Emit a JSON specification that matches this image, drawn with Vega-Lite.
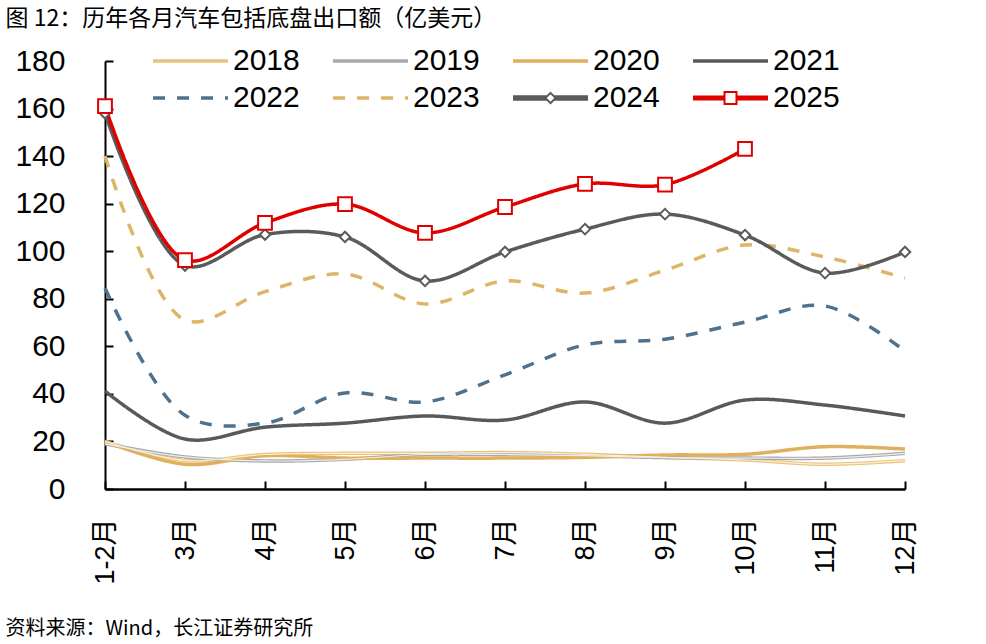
{
  "$schema": "https://vega.github.io/schema/vega-lite/v6.json",
  "width": 800,
  "height": 428,
  "autosize": "none",
  "padding": {"left": 105, "top": 61, "right": 81, "bottom": 155},
  "background": "white",
  "config": {"view": {"stroke": null}, "font": "Liberation Sans"},
  "data": {
    "values": [
      {"year": "2018", "month": "1-2月", "value": 20},
      {"year": "2018", "month": "3月", "value": 12},
      {"year": "2018", "month": "4月", "value": 14.5},
      {"year": "2018", "month": "5月", "value": 15},
      {"year": "2018", "month": "6月", "value": 15},
      {"year": "2018", "month": "7月", "value": 15.3},
      {"year": "2018", "month": "8月", "value": 14.6},
      {"year": "2018", "month": "9月", "value": 13.3},
      {"year": "2018", "month": "10月", "value": 12.2},
      {"year": "2018", "month": "11月", "value": 10.4},
      {"year": "2018", "month": "12月", "value": 11.9},
      {"year": "2019", "month": "1-2月", "value": 19},
      {"year": "2019", "month": "3月", "value": 13.5},
      {"year": "2019", "month": "4月", "value": 11.8},
      {"year": "2019", "month": "5月", "value": 12.5},
      {"year": "2019", "month": "6月", "value": 14.5},
      {"year": "2019", "month": "7月", "value": 14.5},
      {"year": "2019", "month": "8月", "value": 14},
      {"year": "2019", "month": "9月", "value": 13.2},
      {"year": "2019", "month": "10月", "value": 13},
      {"year": "2019", "month": "11月", "value": 13},
      {"year": "2019", "month": "12月", "value": 15},
      {"year": "2020", "month": "1-2月", "value": 20},
      {"year": "2020", "month": "3月", "value": 10.4},
      {"year": "2020", "month": "4月", "value": 14},
      {"year": "2020", "month": "5月", "value": 13},
      {"year": "2020", "month": "6月", "value": 13},
      {"year": "2020", "month": "7月", "value": 13},
      {"year": "2020", "month": "8月", "value": 13.3},
      {"year": "2020", "month": "9月", "value": 14.3},
      {"year": "2020", "month": "10月", "value": 14.6},
      {"year": "2020", "month": "11月", "value": 17.8},
      {"year": "2020", "month": "12月", "value": 16.8},
      {"year": "2021", "month": "1-2月", "value": 41.2},
      {"year": "2021", "month": "3月", "value": 21},
      {"year": "2021", "month": "4月", "value": 26},
      {"year": "2021", "month": "5月", "value": 27.7},
      {"year": "2021", "month": "6月", "value": 30.7},
      {"year": "2021", "month": "7月", "value": 29},
      {"year": "2021", "month": "8月", "value": 36.6},
      {"year": "2021", "month": "9月", "value": 27.7},
      {"year": "2021", "month": "10月", "value": 37.4},
      {"year": "2021", "month": "11月", "value": 35.3},
      {"year": "2021", "month": "12月", "value": 30.7},
      {"year": "2022", "month": "1-2月", "value": 84.5},
      {"year": "2022", "month": "3月", "value": 31},
      {"year": "2022", "month": "4月", "value": 27.7},
      {"year": "2022", "month": "5月", "value": 40.4},
      {"year": "2022", "month": "6月", "value": 36.6},
      {"year": "2022", "month": "7月", "value": 48},
      {"year": "2022", "month": "8月", "value": 60.6},
      {"year": "2022", "month": "9月", "value": 63},
      {"year": "2022", "month": "10月", "value": 70.2},
      {"year": "2022", "month": "11月", "value": 77},
      {"year": "2022", "month": "12月", "value": 58},
      {"year": "2023", "month": "1-2月", "value": 140},
      {"year": "2023", "month": "3月", "value": 71},
      {"year": "2023", "month": "4月", "value": 83},
      {"year": "2023", "month": "5月", "value": 90.4},
      {"year": "2023", "month": "6月", "value": 77.8},
      {"year": "2023", "month": "7月", "value": 87.5},
      {"year": "2023", "month": "8月", "value": 82.4},
      {"year": "2023", "month": "9月", "value": 92},
      {"year": "2023", "month": "10月", "value": 102.6},
      {"year": "2023", "month": "11月", "value": 97.6},
      {"year": "2023", "month": "12月", "value": 88.7},
      {"year": "2024", "month": "1-2月", "value": 158},
      {"year": "2024", "month": "3月", "value": 94},
      {"year": "2024", "month": "4月", "value": 107},
      {"year": "2024", "month": "5月", "value": 106},
      {"year": "2024", "month": "6月", "value": 87.5},
      {"year": "2024", "month": "7月", "value": 99.7},
      {"year": "2024", "month": "8月", "value": 109.3},
      {"year": "2024", "month": "9月", "value": 115.6},
      {"year": "2024", "month": "10月", "value": 106.8},
      {"year": "2024", "month": "11月", "value": 90.8},
      {"year": "2024", "month": "12月", "value": 99.7},
      {"year": "2025", "month": "1-2月", "value": 161},
      {"year": "2025", "month": "3月", "value": 96.3},
      {"year": "2025", "month": "4月", "value": 111.9},
      {"year": "2025", "month": "5月", "value": 119.8},
      {"year": "2025", "month": "6月", "value": 107.7},
      {"year": "2025", "month": "7月", "value": 118.6},
      {"year": "2025", "month": "8月", "value": 128.3},
      {"year": "2025", "month": "9月", "value": 128},
      {"year": "2025", "month": "10月", "value": 143}
    ]
  },
  "encoding": {
    "x": {
      "field": "month",
      "type": "nominal",
      "sort": ["1-2月", "3月", "4月", "5月", "6月", "7月", "8月", "9月", "10月", "11月", "12月"],
      "scale": {"type": "point", "padding": 0},
      "axis": {
        "title": "资料来源：Wind，长江证券研究所",
        "titleX": -100,
        "titleY": 139,
        "titleAlign": "left",
        "titleBaseline": "middle",
        "titleFont": "Noto Sans CJK SC",
        "titleFontSize": 20,
        "titleFontWeight": "normal",
        "titleColor": "black",
        "labelAngle": 270,
        "labelAlign": "right",
        "labelBaseline": "middle",
        "labelFont": "Liberation Sans, Noto Sans CJK SC",
        "labelFontSize": 27,
        "labelColor": "black",
        "labelPadding": 37,
        "tickSize": -8,
        "tickWidth": 2,
        "tickColor": "black",
        "domainColor": "black",
        "domainWidth": 2.5,
        "grid": false
      }
    },
    "y": {
      "field": "value",
      "type": "quantitative",
      "scale": {"domain": [0, 180], "nice": false},
      "axis": {
        "title": "图   12：历年各月汽车包括底盘出口额（亿美元）",
        "titleAngle": 0,
        "titleX": -100,
        "titleY": -43,
        "titleAlign": "left",
        "titleBaseline": "middle",
        "titleFont": "Noto Sans CJK SC",
        "titleFontSize": 23,
        "titleFontWeight": "normal",
        "titleColor": "black",
        "values": [0, 20, 40, 60, 80, 100, 120, 140, 160, 180],
        "labelFont": "Liberation Sans",
        "labelFontSize": 30,
        "labelColor": "black",
        "labelPadding": 48,
        "tickSize": -8,
        "tickWidth": 2,
        "tickColor": "black",
        "domainColor": "black",
        "domainWidth": 2,
        "grid": false
      }
    }
  },
  "layer": [
    {
      "mark": {"type": "line", "interpolate": "catmull-rom", "strokeCap": "butt"},
      "encoding": {
        "color": {
          "field": "year",
          "type": "nominal",
          "scale": {
            "domain": ["2018", "2019", "2020", "2021", "2022", "2023", "2024", "2025"],
            "range": ["#EAC37A", "#A9A9A9", "#DFB15E", "#595959", "#4F718C", "#DEB566", "#5A5A5A", "#E00000"]
          },
          "legend": {
            "orient": "none",
            "direction": "horizontal",
            "legendX": 48,
            "legendY": -15,
            "columns": 4,
            "title": null,
            "padding": 0,
            "symbolType": "M-1.5,0H6",
            "symbolSize": 400,
            "labelFont": "Liberation Sans",
            "labelFontSize": 30,
            "labelColor": "black",
            "labelOffset": 50,
            "columnPadding": 26,
            "rowPadding": 7,
            "encode": {
              "symbols": {
                "update": {
                  "shape": {"signal": "datum.value == '2024' ? 'M-1.5,-0.275H1.88V0.275H-1.5ZM2.62,-0.275H6V0.275H2.62ZM2.25,-0.65L2.9,0L2.25,0.65L1.6,0ZM2.25,-0.37L1.88,0L2.25,0.37L2.62,0Z' : datum.value == '2025' ? 'M-1.5,-0.25H1.55V0.25H-1.5ZM2.95,-0.25H6V0.25H2.95ZM1.55,-0.7H2.95V0.7H1.55ZM1.75,-0.5V0.5H2.75V-0.5Z' : 'M-1.5,0H6'"},
                  "fill": {"signal": "datum.value == '2024' ? '#5A5A5A' : datum.value == '2025' ? '#E00000' : 'transparent'"},
                  "strokeOpacity": {"signal": "datum.value == '2024' || datum.value == '2025' ? 0 : 1"}
                }
              }
            }
          }
        },
        "strokeDash": {
          "field": "year",
          "type": "nominal",
          "scale": {
            "domain": ["2018", "2019", "2020", "2021", "2022", "2023", "2024", "2025"],
            "range": [[1, 0], [1, 0], [1, 0], [1, 0], [12, 12], [12, 12], [1, 0], [1, 0]]
          }
        },
        "strokeWidth": {
          "field": "year",
          "type": "nominal",
          "scale": {
            "domain": ["2018", "2019", "2020", "2021", "2022", "2023", "2024", "2025"],
            "range": [3.5, 3.5, 4, 3.5, 5, 4.5, 5.5, 5]
          }
        }
      }
    },
    {
      "transform": [{"filter": "datum.year == '2018' || datum.year == '2019'"}],
      "mark": {"type": "line", "interpolate": "catmull-rom", "strokeWidth": 1.2},
      "encoding": {
        "detail": {"field": "year"},
        "color": {
          "condition": {"test": "datum.year == '2018'", "value": "#FCEFD6"},
          "value": "#EDEDED"
        }
      }
    },
    {
      "transform": [{"filter": "datum.year == '2024' || datum.year == '2025'"}],
      "mark": {"type": "point", "filled": true, "fill": "white", "strokeWidth": 2, "opacity": 1},
      "encoding": {
        "shape": {
          "condition": {"test": "datum.year == '2025'", "value": "square"},
          "value": "diamond"
        },
        "size": {
          "condition": {"test": "datum.year == '2025'", "value": 190},
          "value": 110
        },
        "stroke": {
          "condition": {"test": "datum.year == '2025'", "value": "#E00000"},
          "value": "#5A5A5A"
        }
      }
    }
  ]
}
